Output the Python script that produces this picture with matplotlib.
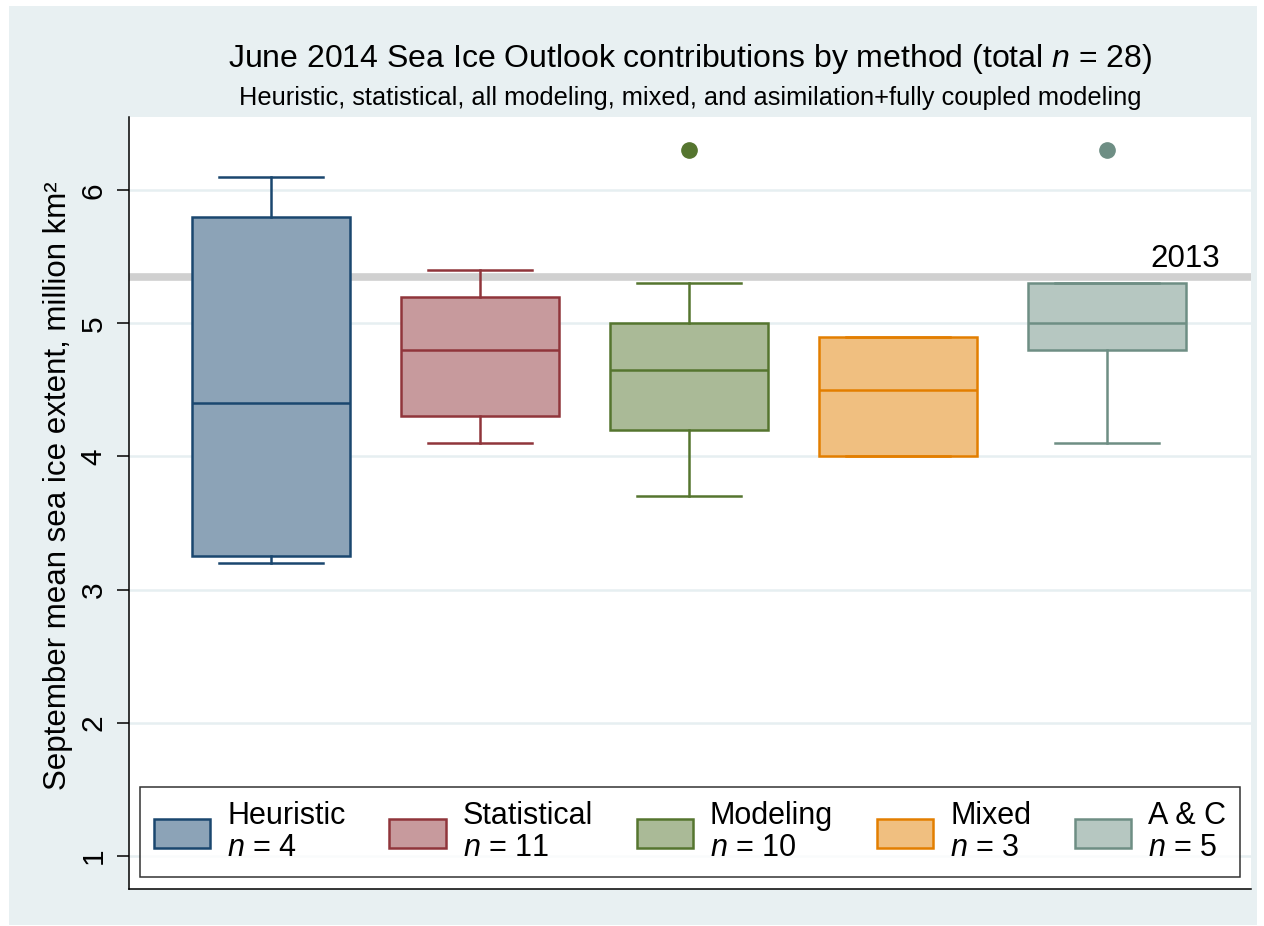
import matplotlib
matplotlib.use("Agg")
import matplotlib.pyplot as plt
from matplotlib.patches import Patch, Rectangle

# fonts: Helvetica look-alike, italic n through mathtext
plt.rcParams['font.family'] = ['Liberation Sans', 'DejaVu Sans']
plt.rcParams['mathtext.fontset'] = 'custom'
plt.rcParams['mathtext.rm'] = 'Liberation Sans'
plt.rcParams['mathtext.it'] = 'Liberation Sans:italic'

# box plot summaries
methods = ['Heuristic', 'Statistical', 'Modeling', 'Mixed', 'A & C']
counts = [4, 11, 10, 3, 5]
whislo = [3.2, 4.1, 3.7, 4.0, 4.1]
q1 = [3.25, 4.3, 4.2, 4.0, 4.8]
med = [4.4, 4.8, 4.65, 4.5, 5.0]
q3 = [5.8, 5.2, 5.0, 4.9, 5.3]
whishi = [6.1, 5.4, 5.3, 4.9, 5.3]
outliers = [[], [], [6.3], [], [6.3]]
extent_2013 = 5.35
yticks = [1, 2, 3, 4, 5, 6]

edge_colors = ['#1A476F', '#90353B', '#55752F', '#E37E00', '#6E8E84']
fill_colors = ['#8CA3B7', '#C79A9D', '#AABA97', '#F0BF80', '#B6C7C1']

fig = plt.figure(figsize=(12.64, 9.26), dpi=100, facecolor='white')
fig.patches.append(Rectangle((9 / 1264, 1 / 926), 1248 / 1264, 919 / 926,
                             transform=fig.transFigure, facecolor='#E8F0F2',
                             edgecolor='none', zorder=-5))
ax = fig.add_axes([129 / 1264, 37 / 926, 1122 / 1264, 772 / 926])
ax.set_zorder(1)
ax.set_facecolor('white')

# 2013 reference line
ax.axhline(extent_2013, color='#D0D0D0', lw=5.5, zorder=1)
ax.text(5.54, extent_2013 + 0.075, '2013', ha='right', va='baseline', fontsize=22.5)

for i in range(len(methods)):
    stats = [{'whislo': whislo[i], 'q1': q1[i], 'med': med[i], 'q3': q3[i],
              'whishi': whishi[i], 'fliers': outliers[i]}]
    c = edge_colors[i]
    ax.bxp(stats, positions=[i + 1], widths=0.756, capwidths=0.5,
           patch_artist=True, showfliers=True,
           boxprops=dict(facecolor=fill_colors[i], edgecolor=c, lw=1.8),
           medianprops=dict(color=c, lw=1.8),
           whiskerprops=dict(color=c, lw=1.8),
           capprops=dict(color=c, lw=1.8),
           flierprops=dict(marker='o', markerfacecolor=c, markeredgecolor=c,
                           markersize=11),
           zorder=3)

ax.set_xlim(0.32, 5.69)
ax.set_ylim(0.75, 6.55)
ax.set_xticks([])
ax.set_yticks(yticks)
ax.set_yticklabels([str(t) for t in yticks])
ax.tick_params(axis='y', labelrotation=90, labelsize=21.5, length=8.5, width=1.1, pad=7)
for lab in ax.get_yticklabels():
    lab.set_va('center')
ax.grid(axis='y', color='#E6EFF1', lw=1.8, zorder=0)
ax.set_axisbelow(True)
for s in ['top', 'right']:
    ax.spines[s].set_visible(False)
for s in ['left', 'bottom']:
    ax.spines[s].set_linewidth(1.1)
ax.set_ylabel('September mean sea ice extent, million km²', fontsize=22.5)
ax.yaxis.set_label_coords(-0.05, 0.523)

# titles
fig.text(690 / 1264, 1 - 67 / 926,
         'June 2014 Sea Ice Outlook contributions by method (total $n$ = 28)',
         ha='center', va='baseline', fontsize=23)
fig.text(690 / 1264, 1 - 105 / 926,
         'Heuristic, statistical, all modeling, mixed, and asimilation+fully coupled modeling',
         ha='center', va='baseline', fontsize=18.3)

# legend
handles = [Patch(facecolor=fill_colors[i], edgecolor=edge_colors[i], lw=1.8)
           for i in range(len(methods))]
labels = ['%s\n$n$ = %d' % (methods[i], counts[i]) for i in range(len(methods))]
leg = ax.legend(handles, labels, ncol=5, loc='lower left',
                bbox_to_anchor=(140 / 1264, 49 / 926, 1100 / 1264, 92 / 926),
                bbox_transform=fig.transFigure, mode='expand',
                fontsize=22, frameon=True, fancybox=False, edgecolor='black',
                handlelength=1.85, handleheight=1.1, handletextpad=0.55,
                columnspacing=1.0, borderaxespad=0, borderpad=0.45)
leg.get_frame().set_linewidth(1.1)
for t in leg.get_texts():
    t.set_linespacing(1.1)

fig.savefig('out.png', dpi=100, facecolor='white')
